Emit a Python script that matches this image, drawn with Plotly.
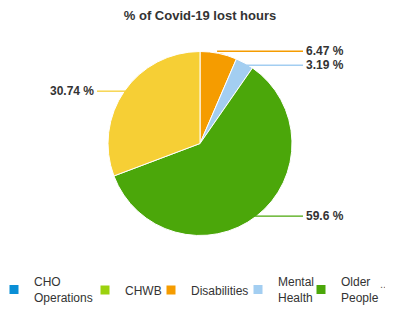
import math
import plotly.graph_objects as go

# ---- data ----
categories = ["CHO Operations", "CHWB", "Disabilities", "Mental Health", "Older People", "Primary Care"]
legend_names = ["CHO<br>Operations", "CHWB", "Disabilities", "Mental<br>Health", "Older<br>People"]
values = [0, 0, 6.47, 3.19, 59.6, 30.74]
label_texts = ["0 %", "0 %", "6.47 %", "3.19 %", "59.6 %", "30.74 %"]
colors = ["#0a8fd6", "#9bd20e", "#f59c00", "#a3cef1", "#4ba70a", "#f6cf35"]
title_text = "% of Covid-19 lost hours"

W, H = 393, 310          # browser window
OFF = 8                  # page body margin in the browser
FW, FH = W - OFF, H - OFF
CX, CY, R = 200.0, 143.5, 92.0
legend_square_x = [14, 105, 171, 258, 321]   # layout positions (px) of legend entries
LEG_Y = 290


def px(x):
    return (x - OFF) / FW


def py(y):
    return 1 - (y - OFF) / FH


fig = go.Figure()
fig.add_trace(go.Pie(
    labels=categories, values=values, sort=False, direction="clockwise", rotation=0,
    marker=dict(colors=colors, line=dict(color="white", width=1)),
    textinfo="none", hoverinfo="label+percent", showlegend=False,
    domain=dict(x=[px(CX - R), px(CX + R)], y=[py(CY + R), py(CY - R)]),
))

# legend entries, each in its own legend box so they can be spaced like the original
legend_layout = {}
for i, (name, c) in enumerate(zip(legend_names, colors)):
    lid = "legend" if i == 0 else f"legend{i + 1}"
    fig.add_trace(go.Scatter(x=[None], y=[None], mode="markers", name=name, legend=lid,
                             marker=dict(symbol="square", size=9, color=c)))
    legend_layout[lid] = dict(
        orientation="h", x=px(legend_square_x[i] - 28 + OFF), y=py(LEG_Y),
        xanchor="left", yanchor="middle", bgcolor="rgba(0,0,0,0)",
        font=dict(size=12, color="#333333"), itemwidth=30,
    )

# outside labels with leader lines, computed from slice angles
total = sum(values)
cum = 0.0
items = []
for v, t, c in zip(values, label_texts, colors):
    if v > 0:
        mid = (cum + v / 2) / total * 2 * math.pi
        ex = CX + R * math.sin(mid)
        ey = CY - R * math.cos(mid)
        items.append(dict(ex=ex, ey=ey, ly=ey, right=ex >= CX, text=t, color=c))
    cum += v

# resolve overlap per side
GAP = 14
for side in (True, False):
    grp = sorted([it for it in items if it["right"] == side], key=lambda d: d["ly"])
    for i in range(1, len(grp)):
        a, b = grp[i - 1], grp[i]
        if b["ly"] - a["ly"] < GAP:
            m = (a["ly"] + b["ly"]) / 2
            a["ly"] = m - GAP / 2
            b["ly"] = m + GAP / 2

shapes = []
annotations = []
for it in items:
    sgn = 1 if it["right"] else -1
    endx = CX + sgn * (R + 11)
    sx = it["ex"] - sgn * 1.5
    shapes.append(dict(type="path", xref="paper", yref="paper",
                       path=f"M {px(sx)},{py(it['ly'])} L {px(endx)},{py(it['ly'])}",
                       line=dict(color=it["color"], width=1.3)))
    annotations.append(dict(xref="paper", yref="paper", x=px(endx + sgn * 1), y=py(it["ly"]),
                            text=f"<b>{it['text']}</b>", showarrow=False,
                            xanchor="left" if it["right"] else "right", yanchor="middle",
                            font=dict(size=12, color="#333333")))

annotations.append(dict(xref="paper", yref="paper", x=px(388), y=py(292), text="..",
                        showarrow=False, font=dict(size=11, color="#666666")))

fig.update_layout(
    width=FW, height=FH,
    margin=dict(l=0, r=0, t=0, b=0, autoexpand=False),
    paper_bgcolor="white", plot_bgcolor="white",
    font=dict(family="Liberation Sans, Arial, sans-serif", size=12, color="#333333"),
    title=dict(text=f"<b>{title_text}</b>", x=px(200), xanchor="center", y=py(15), yanchor="middle",
               font=dict(size=13, color="#333333")),
    xaxis=dict(visible=False), yaxis=dict(visible=False),
    shapes=shapes, annotations=annotations,
    **legend_layout,
)

fig.write_html("out.html")
